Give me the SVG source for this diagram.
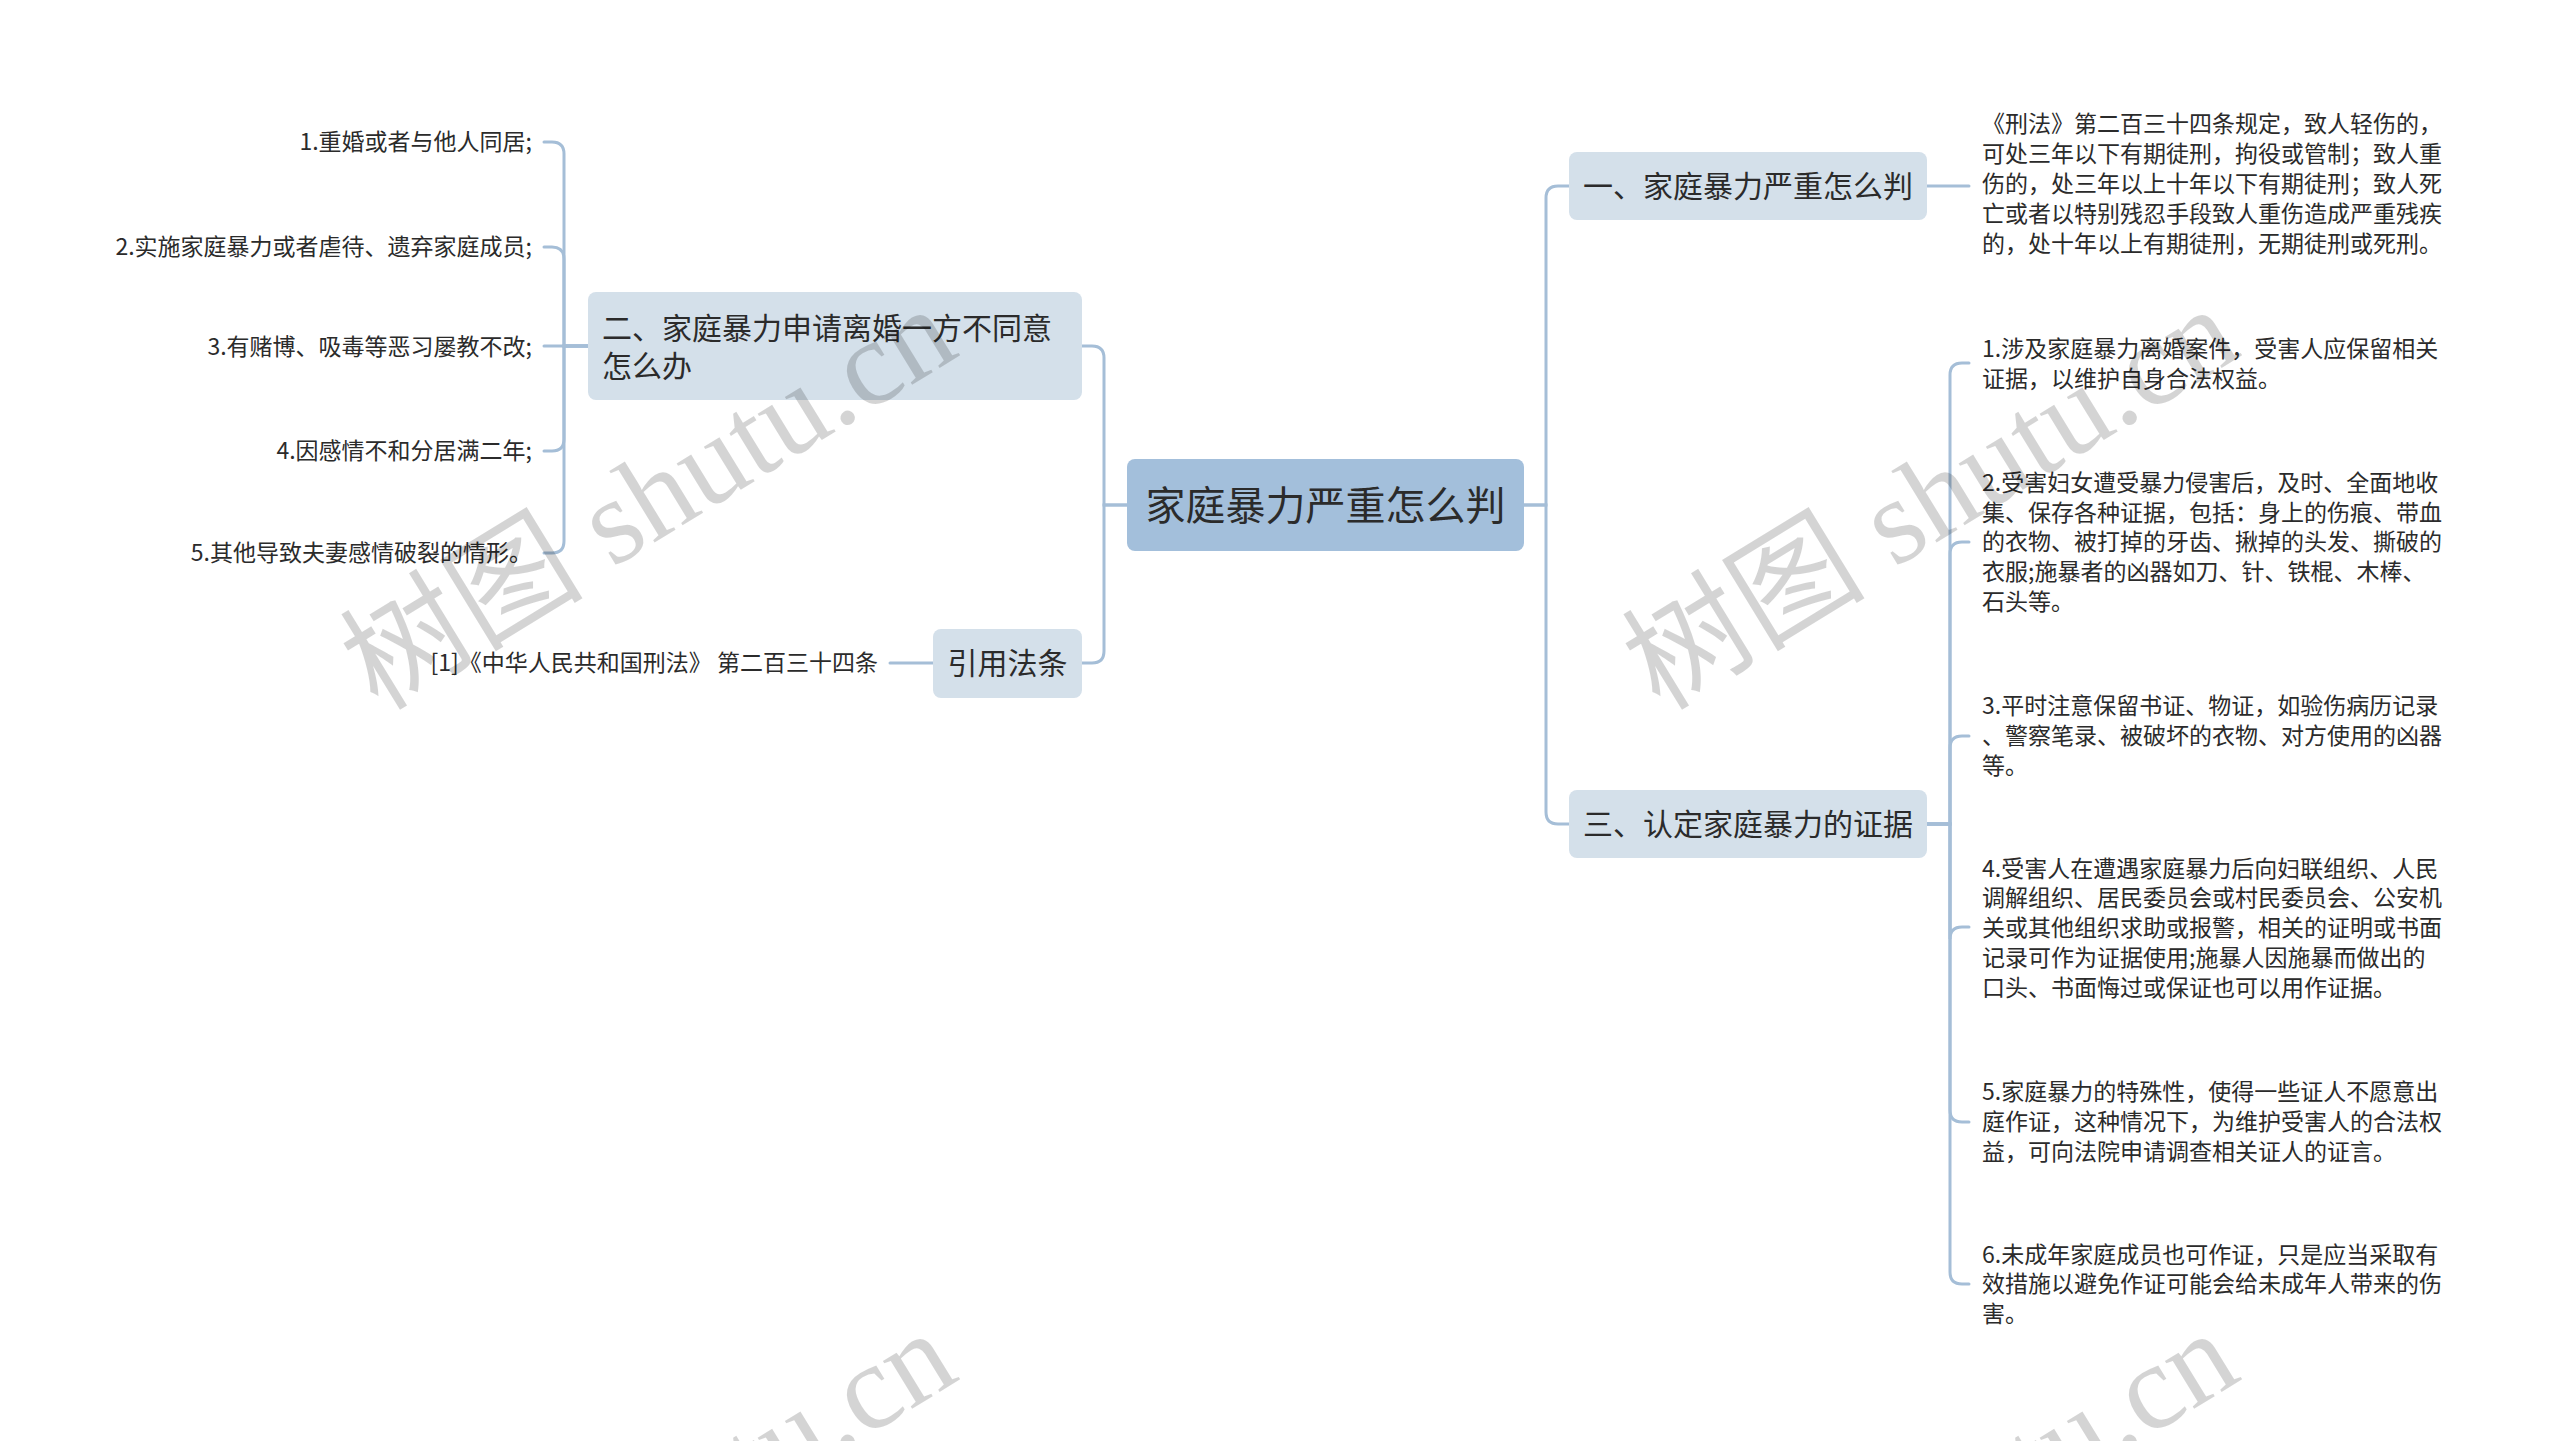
<svg xmlns="http://www.w3.org/2000/svg" width="2560" height="1441" viewBox="0 0 2560 1441">
<style>
text{font-family:"Noto Sans CJK SC","Microsoft YaHei",sans-serif;fill:#2b2b2b}
.root{fill:#a3bfdb}
.n1{fill:#d4e0ea}
.t-root{font-size:40px;text-anchor:middle}
.t1{font-size:30px}
.t1c{font-size:30px;text-anchor:middle}
.leaf{font-size:23px}
.leafr{font-size:23px;text-anchor:end}
.conn path,.conn line{fill:none;stroke:#a5bed7;stroke-width:3;stroke-linecap:round}
.wm{font-family:"Liberation Serif","Noto Sans CJK SC",serif;font-size:122px;fill:#000;fill-opacity:0.17}
</style>
<rect width="2560" height="1441" fill="#ffffff"/>
<g class="conn" id="connectors">
  <path d="M1127,505 H1104 V358 Q1104,346 1092,346 H1082"/>
  <path d="M1127,505 H1104 V651 Q1104,663 1092,663 H1082"/>
  <path d="M1524,505 H1546 V198 Q1546,186 1558,186 H1569"/>
  <path d="M1524,505 H1546 V812 Q1546,824 1558,824 H1569"/>
  <path d="M588,346 H564 V154 Q564,142 552,142 H544"/>
  <path d="M588,346 H564 V259 Q564,247 552,247 H544"/>
  <path d="M588,346 H544"/>
  <path d="M588,346 H564 V439 Q564,451 552,451 H544"/>
  <path d="M588,346 H564 V541 Q564,553 552,553 H544"/>
  <line x1="890" y1="663" x2="933" y2="663"/>
  <line x1="1927" y1="186" x2="1969" y2="186"/>
  <path d="M1927,824 H1950 V375 Q1950,363 1962,363 H1969"/>
  <path d="M1927,824 H1950 V554 Q1950,542 1962,542 H1969"/>
  <path d="M1927,824 H1950 V748 Q1950,736 1962,736 H1969"/>
  <path d="M1927,824 H1950 V939 Q1950,927 1962,927 H1969"/>
  <path d="M1927,824 H1950 V1110 Q1950,1122 1962,1122 H1969"/>
  <path d="M1927,824 H1950 V1272 Q1950,1284 1962,1284 H1969"/>
</g>
<g id="root">
  <rect class="root" x="1127" y="459" width="397" height="92" rx="8"/>
  <text class="t-root" x="1325.5" y="520">家庭暴力严重怎么判</text>
</g>
<g id="n-er">
  <rect class="n1" x="588" y="292" width="494" height="108" rx="8"/>
  <text class="t1" x="602" y="339">二、家庭暴力申请离婚一方不同意</text>
  <text class="t1" x="602" y="377">怎么办</text>
</g>
<g id="n-yinyong">
  <rect class="n1" x="933" y="629" width="149" height="69" rx="8"/>
  <text class="t1c" x="1007.5" y="674">引用法条</text>
</g>
<g id="n-yi">
  <rect class="n1" x="1569" y="152" width="358" height="68" rx="8"/>
  <text class="t1c" x="1748" y="197">一、家庭暴力严重怎么判</text>
</g>
<g id="n-san">
  <rect class="n1" x="1569" y="790" width="358" height="68" rx="8"/>
  <text class="t1c" x="1748" y="835">三、认定家庭暴力的证据</text>
</g>
<g id="l-er-1"><text class="leafr" x="532" y="150">1.重婚或者与他人同居;</text></g>
<g id="l-er-2"><text class="leafr" x="532" y="255">2.实施家庭暴力或者虐待、遗弃家庭成员;</text></g>
<g id="l-er-3"><text class="leafr" x="532" y="355">3.有赌博、吸毒等恶习屡教不改;</text></g>
<g id="l-er-4"><text class="leafr" x="532" y="459">4.因感情不和分居满二年;</text></g>
<g id="l-er-5"><text class="leafr" x="532" y="561">5.其他导致夫妻感情破裂的情形。</text></g>
<g id="l-yinyong-1"><text class="leafr" x="878" y="671">[1]《中华人民共和国刑法》 第二百三十四条</text></g>
<g id="l-yi-1">
  <text class="leaf" x="1982" y="132">《刑法》第二百三十四条规定，致人轻伤的，</text>
  <text class="leaf" x="1982" y="162">可处三年以下有期徒刑，拘役或管制；致人重</text>
  <text class="leaf" x="1982" y="192">伤的，处三年以上十年以下有期徒刑；致人死</text>
  <text class="leaf" x="1982" y="222">亡或者以特别残忍手段致人重伤造成严重残疾</text>
  <text class="leaf" x="1982" y="252">的，处十年以上有期徒刑，无期徒刑或死刑。</text>
</g>
<g id="l-san-1">
  <text class="leaf" x="1982" y="357">1.涉及家庭暴力离婚案件，受害人应保留相关</text>
  <text class="leaf" x="1982" y="387">证据，以维护自身合法权益。</text>
</g>
<g id="l-san-2">
  <text class="leaf" x="1982" y="491">2.受害妇女遭受暴力侵害后，及时、全面地收</text>
  <text class="leaf" x="1982" y="521">集、保存各种证据，包括：身上的伤痕、带血</text>
  <text class="leaf" x="1982" y="550">的衣物、被打掉的牙齿、揪掉的头发、撕破的</text>
  <text class="leaf" x="1982" y="580">衣服;施暴者的凶器如刀、针、铁棍、木棒、</text>
  <text class="leaf" x="1982" y="610">石头等。</text>
</g>
<g id="l-san-3">
  <text class="leaf" x="1982" y="714">3.平时注意保留书证、物证，如验伤病历记录</text>
  <text class="leaf" x="1982" y="744">、警察笔录、被破坏的衣物、对方使用的凶器</text>
  <text class="leaf" x="1982" y="774">等。</text>
</g>
<g id="l-san-4">
  <text class="leaf" x="1982" y="877">4.受害人在遭遇家庭暴力后向妇联组织、人民</text>
  <text class="leaf" x="1982" y="906">调解组织、居民委员会或村民委员会、公安机</text>
  <text class="leaf" x="1982" y="936">关或其他组织求助或报警，相关的证明或书面</text>
  <text class="leaf" x="1982" y="966">记录可作为证据使用;施暴人因施暴而做出的</text>
  <text class="leaf" x="1982" y="996">口头、书面悔过或保证也可以用作证据。</text>
</g>
<g id="l-san-5">
  <text class="leaf" x="1982" y="1100">5.家庭暴力的特殊性，使得一些证人不愿意出</text>
  <text class="leaf" x="1982" y="1130">庭作证，这种情况下，为维护受害人的合法权</text>
  <text class="leaf" x="1982" y="1160">益，可向法院申请调查相关证人的证言。</text>
</g>
<g id="l-san-6">
  <text class="leaf" x="1982" y="1263">6.未成年家庭成员也可作证，只是应当采取有</text>
  <text class="leaf" x="1982" y="1292">效措施以避免作证可能会给未成年人带来的伤</text>
  <text class="leaf" x="1982" y="1322">害。</text>
</g>
<g id="watermark">
  <text class="wm" transform="translate(378,712) rotate(-31.5)">树图 shutu.cn</text>
  <text class="wm" transform="translate(1660,712) rotate(-31.5)">树图 shutu.cn</text>
  <text class="wm" transform="translate(378,1736) rotate(-31.5)">树图 shutu.cn</text>
  <text class="wm" transform="translate(1660,1736) rotate(-31.5)">树图 shutu.cn</text>
</g>
</svg>
